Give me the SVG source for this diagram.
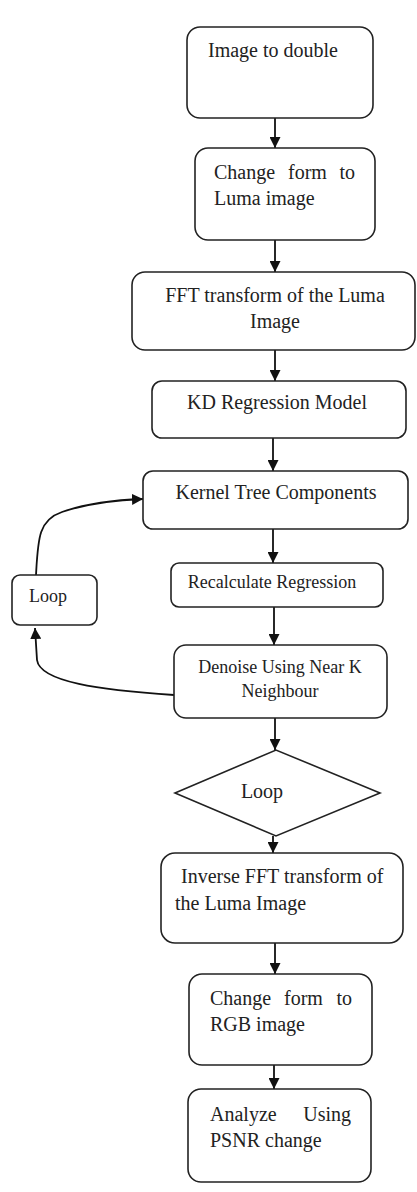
<svg xmlns="http://www.w3.org/2000/svg" width="417" height="1192" viewBox="0 0 417 1192">
<defs>
<style>
.box{fill:#fff;stroke:#222;stroke-width:1.6}
.t{font-family:"Liberation Serif","Times New Roman",serif;font-size:20px;fill:#222}
.s{font-size:18px}
.c{text-anchor:middle}
.e{text-anchor:end}
.ln{fill:none;stroke:#111;stroke-width:1.8}
</style>
<marker id="ah" markerUnits="userSpaceOnUse" markerWidth="11" markerHeight="11" refX="11" refY="5.5" orient="auto" viewBox="0 0 11 11">
<path d="M0,0 L11,5.5 L0,11 z" fill="#111"/>
</marker>
</defs>
<rect width="417" height="1192" fill="#fff"/>
<g id="connectors">
<line class="ln" x1="275" y1="118" x2="275" y2="148" marker-end="url(#ah)"/>
<line class="ln" x1="275" y1="240" x2="275" y2="272" marker-end="url(#ah)"/>
<line class="ln" x1="275" y1="350" x2="275" y2="381" marker-end="url(#ah)"/>
<line class="ln" x1="273" y1="438" x2="273" y2="471" marker-end="url(#ah)"/>
<line class="ln" x1="273" y1="529" x2="273" y2="563" marker-end="url(#ah)"/>
<line class="ln" x1="274" y1="607" x2="274" y2="645" marker-end="url(#ah)"/>
<line class="ln" x1="275" y1="718" x2="275" y2="750" marker-end="url(#ah)"/>
<line class="ln" x1="273" y1="836" x2="273" y2="853" marker-end="url(#ah)"/>
<line class="ln" x1="275" y1="943" x2="275" y2="974" marker-end="url(#ah)"/>
<line class="ln" x1="274" y1="1065" x2="274" y2="1089" marker-end="url(#ah)"/>
<path class="ln" d="M36,575 C38,540 38,520 62,512 C85,504 115,500 143,499" marker-end="url(#ah)"/>
<path class="ln" d="M174,695 C100,690 40,682 37,660 L35,628" marker-end="url(#ah)"/>
</g>
<g id="n1">
<rect class="box" x="187" y="27" width="186" height="91" rx="13"/>
<text class="t" x="208" y="57">Image to double</text>
</g>
<g id="n2">
<rect class="box" x="195" y="148" width="180" height="92" rx="13"/>
<text class="t" y="179"><tspan x="214">Change</tspan><tspan x="288">form</tspan><tspan x="355" text-anchor="end">to</tspan></text>
<text class="t" x="214" y="205">Luma image</text>
</g>
<g id="n3">
<rect class="box" x="132" y="272" width="283" height="78" rx="13"/>
<text class="t c" x="275" y="302">FFT transform of the Luma</text>
<text class="t c" x="275" y="328">Image</text>
</g>
<g id="n4">
<rect class="box" x="152" y="381" width="254" height="57" rx="10"/>
<text class="t c" x="277" y="409">KD Regression Model</text>
</g>
<g id="n5">
<rect class="box" x="143" y="471" width="265" height="58" rx="10"/>
<text class="t c" x="276" y="499">Kernel Tree Components</text>
</g>
<g id="n6">
<rect class="box" x="171" y="563" width="212" height="44" rx="8"/>
<text class="t s c" x="272" y="588">Recalculate Regression</text>
</g>
<g id="n7">
<rect class="box" x="174" y="645" width="213" height="73" rx="12"/>
<text class="t s c" x="280" y="673">Denoise Using Near K</text>
<text class="t s c" x="280" y="697">Neighbour</text>
</g>
<g id="loopbox">
<rect class="box" x="12" y="575" width="85" height="50" rx="8"/>
<text class="t s" x="29" y="602">Loop</text>
</g>
<g id="decision">
<polygon class="box" points="175,793 276,750 380,793 276,836"/>
<text class="t c" x="262" y="798">Loop</text>
</g>
<g id="n8">
<rect class="box" x="161" y="853" width="242" height="90" rx="14"/>
<text class="t" x="181" y="883">Inverse FFT transform of</text>
<text class="t" x="175" y="910">the Luma Image</text>
</g>
<g id="n9">
<rect class="box" x="189" y="974" width="183" height="91" rx="13"/>
<text class="t" y="1005"><tspan x="210">Change</tspan><tspan x="284">form</tspan><tspan x="352" text-anchor="end">to</tspan></text>
<text class="t" x="210" y="1031">RGB image</text>
</g>
<g id="n10">
<rect class="box" x="188" y="1089" width="183" height="93" rx="13"/>
<text class="t" y="1121"><tspan x="210">Analyze</tspan><tspan x="351" text-anchor="end">Using</tspan></text>
<text class="t" x="210" y="1147">PSNR change</text>
</g>
</svg>
